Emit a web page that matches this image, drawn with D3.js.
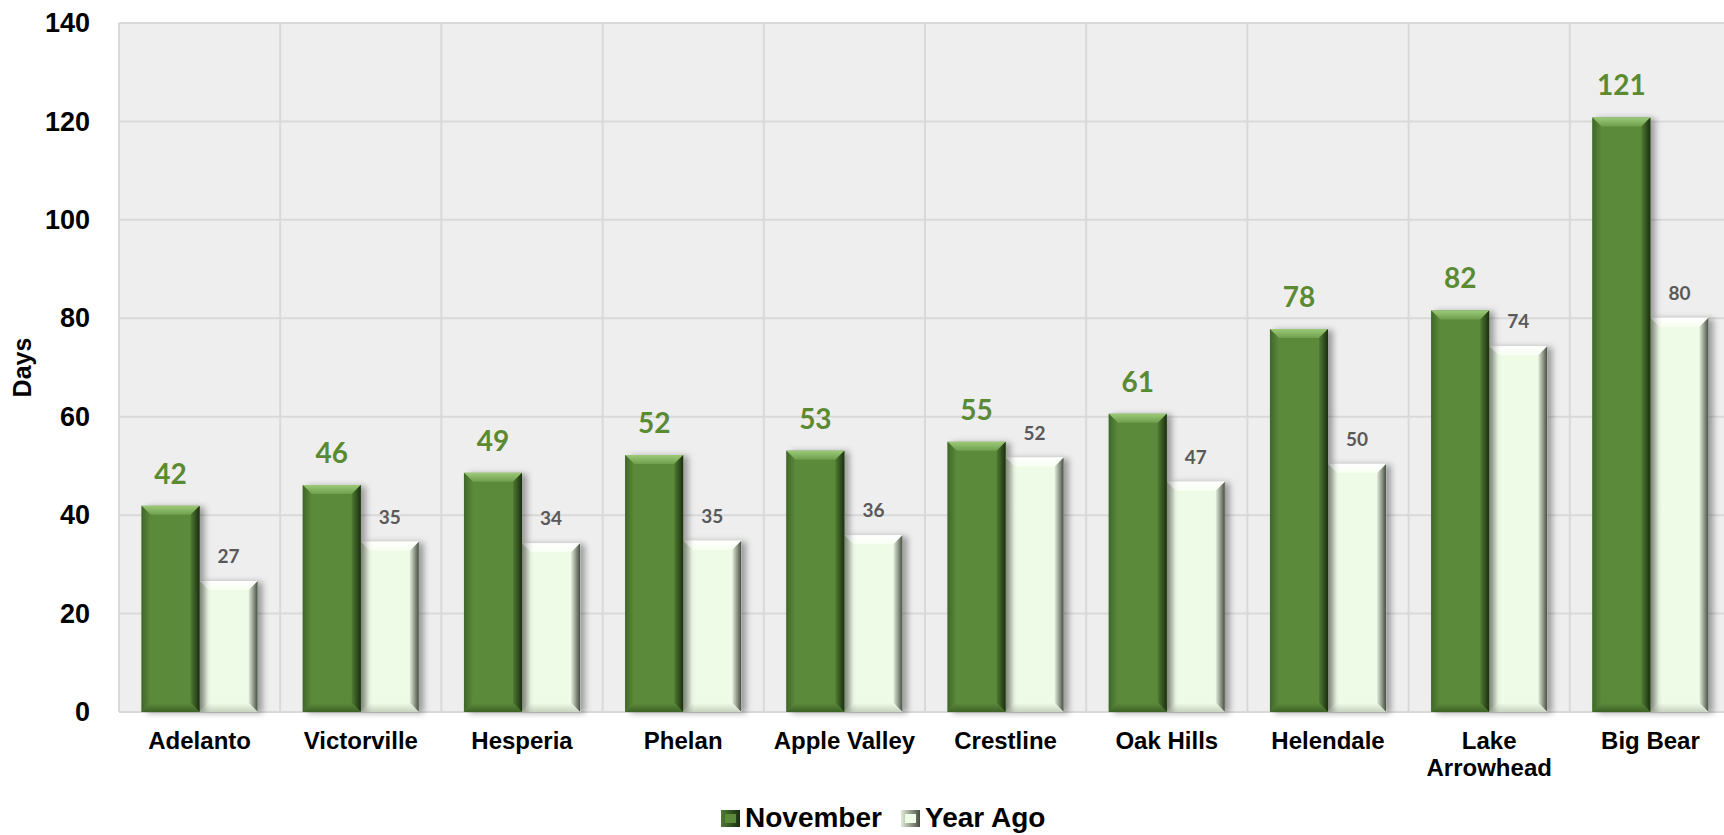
<!DOCTYPE html>
<html>
<head>
<meta charset="utf-8">
<script src="https://cdn.jsdelivr.net/npm/d3@7"></script>
<style>
  body { margin: 0; background: #ffffff; }
  svg { display: block; overflow: hidden; }
  .tick-y text { font-family: "Liberation Sans", Arial, sans-serif; font-weight: bold; font-size: 27px; fill: #000; }
  .tick-x text { font-family: "Liberation Sans", Arial, sans-serif; font-weight: bold; font-size: 24px; fill: #000; }
</style>
</head>
<body>
<div id="chart"></div>
<script>
// Chart data
var cities = ["Adelanto", "Victorville", "Hesperia", "Phelan", "Apple Valley",
  "Crestline", "Oak Hills", "Helendale", "Lake Arrowhead", "Big Bear"];
var cityLines = [["Adelanto"], ["Victorville"], ["Hesperia"], ["Phelan"], ["Apple Valley"],
  ["Crestline"], ["Oak Hills"], ["Helendale"], ["Lake", "Arrowhead"], ["Big Bear"]];
var november = [41.9, 46.1, 48.6, 52.2, 53.1, 54.9, 60.6, 77.8, 81.6, 120.8];
var yearAgo = [26.6, 34.6, 34.3, 34.8, 35.9, 51.7, 46.8, 50.4, 74.3, 80.1];
var seriesNames = ["November", "Year Ago"];
var yTicks = [0, 20, 40, 60, 80, 100, 120, 140];

var svgWidth = 1724;
var svgHeight = 835;

var margin = { top: 23, left: 119 };
var width = 1612;   // plot runs slightly past the right edge, like the original
var height = 689;

var svg = d3.select("#chart")
  .append("svg")
  .attr("width", svgWidth)
  .attr("height", svgHeight);

var defs = svg.append("defs");

// soft shadow to the right of each bar
var shadow = defs.append("filter")
  .attr("id", "shadow")
  .attr("x", "-20%").attr("y", "-10%")
  .attr("width", "150%").attr("height", "120%");
shadow.append("feDropShadow")
  .attr("dx", 5).attr("dy", 1)
  .attr("stdDeviation", 3)
  .attr("flood-color", "#000")
  .attr("flood-opacity", 0.35);

// bevel colours per series
var styles = {
  "November": {
    base: "#5b8a3a",
    top: ["#9bc978", "#6f9f4c"],
    right: ["#4f7b33", "#1b2e10"],
    left: ["#3f6729", "#5b8a3a"],
    bottom: ["#5b8a3a", "#3d6226"],
    label: "#5a8a32", labelSize: 28, labelGap: 22
  },
  "Year Ago": {
    base: "#eefbe6",
    top: ["#ffffff", "#f7fff1"],
    right: ["#e2ecdb", "#464e41"],
    left: ["#bfc8b8", "#eefbe6"],
    bottom: ["#eefbe6", "#c9d2c1"],
    label: "#595959", labelSize: 19, labelGap: 18
  }
};

// gradients used by the bevel pieces
function addGradient(id, c, horizontal) {
  var g = defs.append("linearGradient")
    .attr("id", id)
    .attr("x1", 0).attr("y1", 0)
    .attr("x2", horizontal ? 1 : 0)
    .attr("y2", horizontal ? 0 : 1);
  g.append("stop").attr("offset", "0%").attr("stop-color", c[0]);
  g.append("stop").attr("offset", "100%").attr("stop-color", c[1]);
}
seriesNames.forEach(function(s, i) {
  var st = styles[s];
  addGradient("top" + i, st.top, false);
  addGradient("right" + i, st.right, true);
  addGradient("left" + i, st.left, true);
  addGradient("bottom" + i, st.bottom, false);
});

var chartGroup = svg.append("g")
  .attr("transform", `translate(${margin.left}, ${margin.top})`);

// scales
var x0 = d3.scaleBand()
  .domain(cities)
  .range([0, width])
  .paddingInner(0.28)
  .paddingOuter(0.14);

var x1 = d3.scaleBand()
  .domain(seriesNames)
  .range([0, x0.bandwidth()]);

var yLinearScale = d3.scaleLinear()
  .domain([0, 140])
  .range([height, 0]);

// plot background
chartGroup.append("rect")
  .attr("x", 0).attr("y", 0)
  .attr("width", width).attr("height", height)
  .attr("fill", "#eeeeee");

// horizontal grid
chartGroup.append("g")
  .selectAll("line")
  .data(yTicks)
  .enter()
  .append("line")
  .attr("x1", 0).attr("x2", width)
  .attr("y1", d => yLinearScale(d))
  .attr("y2", d => yLinearScale(d))
  .attr("stroke", "#d9d9d9")
  .attr("stroke-width", 2);

// vertical grid at category boundaries
chartGroup.append("g")
  .selectAll("line")
  .data(d3.range(cities.length + 1))
  .enter()
  .append("line")
  .attr("x1", i => i * x0.step())
  .attr("x2", i => i * x0.step())
  .attr("y1", 0).attr("y2", height)
  .attr("stroke", "#d9d9d9")
  .attr("stroke-width", 2);

// bar rows
var rows = cities.map(function(c, i) {
  return [
    { city: c, series: "November", idx: 0, value: november[i] },
    { city: c, series: "Year Ago", idx: 1, value: yearAgo[i] }
  ];
});

var bevel = 9;

var groups = chartGroup.selectAll(".city")
  .data(rows)
  .enter()
  .append("g")
  .attr("class", "city")
  .attr("transform", (d, i) => `translate(${x0(cities[i])}, 0)`);

// draw year ago first so the november shadow is covered properly
var bars = groups.selectAll(".bar")
  .data(d => d.slice().reverse())
  .enter()
  .append("g")
  .attr("class", "bar")
  .each(function(d) {
    var g = d3.select(this);
    var st = styles[d.series];
    var bx = x1(d.series);
    var by = yLinearScale(d.value);
    var w = x1.bandwidth();
    var h = height - by;
    var b = Math.min(bevel, h / 2);

    g.append("rect")
      .attr("x", bx).attr("y", by)
      .attr("width", w).attr("height", h)
      .attr("fill", st.base)
      .attr("filter", "url(#shadow)");

    var pts = function(p) { return p.map(q => q.join(",")).join(" "); };

    g.append("polygon")
      .attr("points", pts([[bx, by], [bx + w, by], [bx + w - b, by + b], [bx + b, by + b]]))
      .attr("fill", `url(#top${d.idx})`);
    g.append("polygon")
      .attr("points", pts([[bx + w, by], [bx + w, by + h], [bx + w - b, by + h - b], [bx + w - b, by + b]]))
      .attr("fill", `url(#right${d.idx})`);
    g.append("polygon")
      .attr("points", pts([[bx, by], [bx + b, by + b], [bx + b, by + h - b], [bx, by + h]]))
      .attr("fill", `url(#left${d.idx})`);
    g.append("polygon")
      .attr("points", pts([[bx, by + h], [bx + b, by + h - b], [bx + w - b, by + h - b], [bx + w, by + h]]))
      .attr("fill", `url(#bottom${d.idx})`);
  });

// value labels
groups.selectAll(".value")
  .data(d => d)
  .enter()
  .append("text")
  .attr("class", "value")
  .attr("x", d => x1(d.series) + x1.bandwidth() / 2)
  .attr("y", d => yLinearScale(d.value) - styles[d.series].labelGap)
  .attr("text-anchor", "middle")
  .attr("font-family", "Lato, 'Open Sans', sans-serif")
  .attr("font-weight", "bold")
  .attr("font-size", d => styles[d.series].labelSize + "px")
  .attr("fill", d => styles[d.series].label)
  .text(d => d3.format(".0f")(d.value));

// y axis
var leftAxis = d3.axisLeft(yLinearScale)
  .tickValues(yTicks)
  .tickSize(0)
  .tickPadding(29);

chartGroup.append("g")
  .attr("class", "tick-y")
  .call(leftAxis)
  .call(g => g.select(".domain").remove());

// x axis
var bottomAxis = d3.axisBottom(x0)
  .tickSize(0)
  .tickPadding(20);

var xAxis = chartGroup.append("g")
  .attr("class", "tick-x")
  .attr("transform", `translate(0, ${height})`)
  .call(bottomAxis)
  .call(g => g.select(".domain").remove());

// multi-line tick labels
xAxis.selectAll(".tick text")
  .each(function(d, i) {
    var t = d3.select(this);
    var lines = cityLines[cities.indexOf(d)];
    t.text(null);
    lines.forEach(function(line, j) {
      t.append("tspan")
        .attr("x", 0)
        .attr("dy", j === 0 ? "0.71em" : "1.13em")
        .text(line);
    });
  });

// y axis title
svg.append("text")
  .attr("transform", `translate(31, ${margin.top + height / 2}) rotate(-90)`)
  .attr("text-anchor", "middle")
  .attr("font-family", "'Liberation Sans', Arial, sans-serif")
  .attr("font-weight", "bold")
  .attr("font-size", "25px")
  .text("Days");

// legend
var legendX = [721, 901];
var legend = svg.append("g");

seriesNames.forEach(function(s, i) {
  var st = styles[s];
  legend.append("rect")
    .attr("x", legendX[i]).attr("y", 810)
    .attr("width", 19).attr("height", 17)
    .attr("fill", `url(#right${i})`);
  legend.append("rect")
    .attr("x", legendX[i] + 4).attr("y", 814)
    .attr("width", 11).attr("height", 9)
    .attr("fill", st.base);
  legend.append("text")
    .attr("x", legendX[i] + 24)
    .attr("y", 827)
    .attr("font-family", "'Liberation Sans', Arial, sans-serif")
    .attr("font-weight", "bold")
    .attr("font-size", "28px")
    .text(s);
});
</script>
</body>
</html>
